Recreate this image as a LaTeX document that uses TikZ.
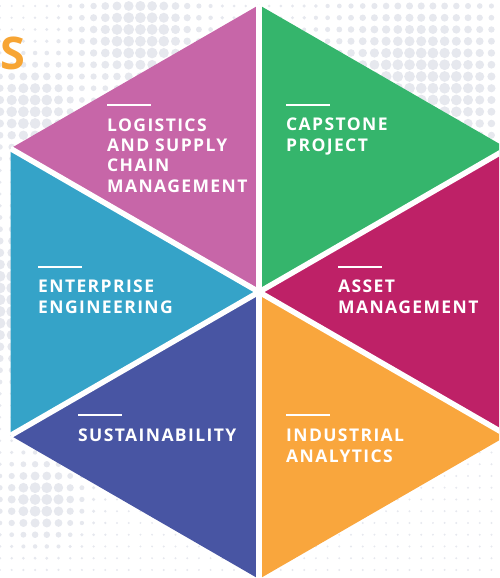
\documentclass[tikz,border=0pt]{standalone}
\usepackage{fontspec}
\setsansfont{Open Sans}
\newfontfamily\labelfont[LetterSpace=8]{Open Sans}
\newfontfamily\bigfont{Open Sans}
\definecolor{pinkc}{HTML}{C766A8}
\definecolor{greenc}{HTML}{35B56C}
\definecolor{magc}{HTML}{BE2167}
\definecolor{orangec}{HTML}{F9A63D}
\definecolor{bluec}{HTML}{4855A3}
\definecolor{cyanc}{HTML}{35A3C8}
\definecolor{dotc}{HTML}{E6E8EE}
\definecolor{titlec}{HTML}{F7A534}
\begin{document}
\begin{tikzpicture}[x=1pt,y=-1pt,
  lbl/.style={anchor=base west, text=white, font=\labelfont\bfseries\fontsize{17.5}{20.3}\selectfont, align=left, inner sep=0pt},
  bar/.style={white, line width=2.5pt},
  sep/.style={white, line width=5.5pt},
  dot/.style={fill=dotc}]
\useasboundingbox (0,0) rectangle (499,578);
\clip (0,0) rectangle (499,578);
% background dots
\foreach \i in {0,...,43}{
  \foreach \j in {0,...,49}{
    \pgfmathsetmacro{\px}{\i*0.117}
    \pgfmathsetmacro{\py}{0.06+\j*0.1175}
    \pgfmathsetmacro{\rr}{min(5.4,1.1+5*(
      exp(-min(9,((\px-1.4)^2+(\py-0.35)^2)/0.35))+
      exp(-min(9,((\px-4.2)^2+(\py-0.9)^2)/1.0))+
      exp(-min(9,((\px-0.3)^2+(\py-1.1)^2)/0.2))+
      exp(-min(9,((\px-0.1)^2+(\py-3.0)^2)/0.5))+
      exp(-min(9,((\px-0.4)^2+(\py-5.0)^2)/0.15))))}
    \fill[dot] (\px*100,\py*100) circle (\rr);
  }
}
% title fragment
\node[anchor=base east, inner sep=0pt, text=titlec, font=\bigfont\bfseries\fontsize{45}{45}\selectfont] (title) at (25,70) {S};
% hexagon geometry
\coordinate (C) at (259,292);
\coordinate (T) at (259,5);
\coordinate (UR) at (507.5,148.5);
\coordinate (LR) at (507.5,435.5);
\coordinate (B) at (259,579);
\coordinate (LL) at (10.5,435.5);
\coordinate (UL) at (10.5,148.5);
\fill[pinkc] (C) -- (T) -- (UL) -- cycle;
\fill[greenc] (C) -- (T) -- (UR) -- cycle;
\fill[magc] (C) -- (UR) -- (LR) -- cycle;
\fill[orangec] (C) -- (LR) -- (B) -- cycle;
\fill[bluec] (C) -- (B) -- (LL) -- cycle;
\fill[cyanc] (C) -- (LL) -- (UL) -- cycle;
\draw[sep] (T) -- (B);
\draw[sep] (UL) -- (LR);
\draw[sep] (UR) -- (LL);
% bars
\draw[bar] (107,105) -- (151,105);
\draw[bar] (286,105) -- (330,105);
\draw[bar] (38,267) -- (82,267);
\draw[bar] (338,267) -- (382,267);
\draw[bar] (78,415) -- (122,415);
\draw[bar] (286,415) -- (330,415);
% labels (anchor = baseline of last line)
\node[lbl] (logistics) at (107,192) {LOGISTICS\\AND SUPPLY\\CHAIN\\MANAGEMENT};
\node[lbl] (capstone) at (286,151) {CAPSTONE\\PROJECT};
\node[lbl] (enterprise) at (38,313) {ENTERPRISE\\ENGINEERING};
\node[lbl] (asset) at (338,313) {ASSET\\MANAGEMENT};
\node[lbl] (sustain) at (78,441) {SUSTAINABILITY};
\node[lbl] (industrial) at (286,462) {INDUSTRIAL\\ANALYTICS};
\end{tikzpicture}
\end{document}
